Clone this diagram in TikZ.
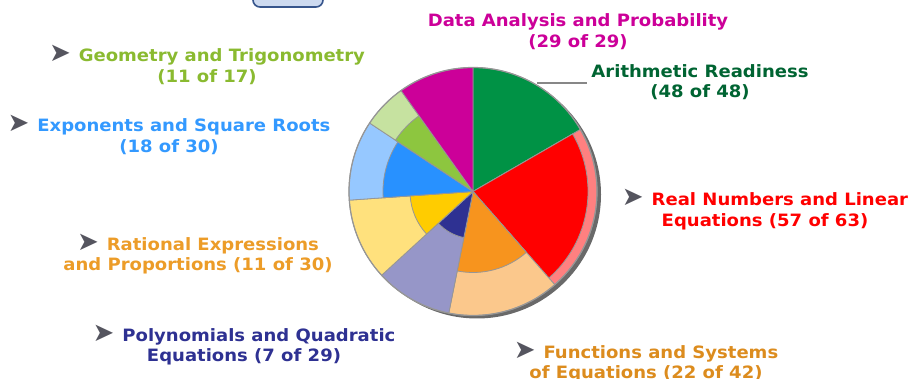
\documentclass[tikz,border=0pt]{standalone}
\usepackage{fontspec}
\usetikzlibrary{calc}
\setmainfont{DejaVu Sans}[FakeStretch=1.06]
\newfontfamily\symfont{DejaVu Sans}
\definecolor{arithC}{RGB}{0,146,69}
\definecolor{realC}{RGB}{255,0,0}
\definecolor{realL}{RGB}{255,128,128}
\definecolor{funcC}{RGB}{247,148,30}
\definecolor{funcL}{RGB}{251,200,140}
\definecolor{polyC}{RGB}{46,49,146}
\definecolor{polyL}{RGB}{150,150,200}
\definecolor{ratC}{RGB}{255,204,0}
\definecolor{ratL}{RGB}{255,225,125}
\definecolor{expoC}{RGB}{40,145,255}
\definecolor{expoL}{RGB}{150,200,255}
\definecolor{geoC}{RGB}{141,198,63}
\definecolor{geoL}{RGB}{198,226,160}
\definecolor{dataC}{RGB}{204,0,153}
\definecolor{geoT}{RGB}{138,186,48}
\definecolor{expoT}{RGB}{51,153,255}
\definecolor{ratT}{RGB}{236,156,40}
\definecolor{polyT}{RGB}{46,49,146}
\definecolor{dataT}{RGB}{204,0,153}
\definecolor{arithT}{RGB}{0,100,50}
\definecolor{realT}{RGB}{255,0,0}
\definecolor{funcT}{RGB}{220,140,30}
\definecolor{edgegray}{RGB}{150,150,150}
\definecolor{shadowgray}{RGB}{105,105,105}
\definecolor{arrowgray}{RGB}{85,85,95}
\definecolor{boxline}{RGB}{55,85,140}
\definecolor{boxfill}{RGB}{205,218,240}
\newcommand{\pointer}{{\symfont\fontsize{26}{20.5}\selectfont\color{arrowgray}➤}\hspace{8pt}}
\tikzset{
  slice/.style={draw=edgegray, line width=0.8pt},
  tag/.style={align=center, font=\fontsize{17}{20.5}\selectfont\bfseries, inner sep=4pt},
}
\begin{document}
\begin{tikzpicture}[x=1pt, y=1pt]
\useasboundingbox (0,0) rectangle (910,379);
\coordinate (pc) at (473,187.5);
% box at the top
\draw[boxline, fill=boxfill, line width=1.6pt, rounded corners=7pt] (253,372) rectangle (323,395);
% shadow
\fill[shadowgray] ($(pc)+(4,-3)$) circle (124);
% slices, outer part then done part
\filldraw[slice, fill=arithC] (pc) -- ++(30:124) arc[start angle=30, end angle=90, radius=124] -- cycle;
\filldraw[slice, fill=realL] (pc) -- ++(-48.75:124) arc[start angle=-48.75, end angle=30, radius=124] -- cycle;
\filldraw[slice, fill=realC] (pc) -- ++(-48.75:115) arc[start angle=-48.75, end angle=30, radius=115] -- cycle;
\filldraw[slice, fill=funcL] (pc) -- ++(-101.25:124) arc[start angle=-101.25, end angle=-48.75, radius=124] -- cycle;
\filldraw[slice, fill=funcC] (pc) -- ++(-101.25:81) arc[start angle=-101.25, end angle=-48.75, radius=81] -- cycle;
\filldraw[slice, fill=polyL] (pc) -- ++(-137.5:124) arc[start angle=-137.5, end angle=-101.25, radius=124] -- cycle;
\filldraw[slice, fill=polyC] (pc) -- ++(-137.5:47) arc[start angle=-137.5, end angle=-101.25, radius=47] -- cycle;
\filldraw[slice, fill=ratL] (pc) -- ++(-176:124) arc[start angle=-176, end angle=-137.5, radius=124] -- cycle;
\filldraw[slice, fill=ratC] (pc) -- ++(-176:63) arc[start angle=-176, end angle=-137.5, radius=63] -- cycle;
\filldraw[slice, fill=expoL] (pc) -- ++(146.5:124) arc[start angle=146.5, end angle=184, radius=124] -- cycle;
\filldraw[slice, fill=expoC] (pc) -- ++(146.5:90) arc[start angle=146.5, end angle=184, radius=90] -- cycle;
\filldraw[slice, fill=geoL] (pc) -- ++(125.5:124) arc[start angle=125.5, end angle=146.5, radius=124] -- cycle;
\filldraw[slice, fill=geoC] (pc) -- ++(125.5:93) arc[start angle=125.5, end angle=146.5, radius=93] -- cycle;
\filldraw[slice, fill=dataC] (pc) -- ++(90:124) arc[start angle=90, end angle=125.5, radius=124] -- cycle;
\draw[edgegray, line width=1.2pt] (pc) circle (124);
% labels
\node[tag, text=dataT] (data) at (578,347.5) {Data Analysis and Probability\\(29 of 29)};
\node[tag, text=arithT] (arith) at (700,297) {Arithmetic Readiness\\(48 of 48)};
\node[tag, text=geoT] (geo) at (207,314) {\pointer Geometry and Trigonometry\\(11 of 17)};
\node[tag, text=expoT] (expo) at (169,244) {\pointer Exponents and Square Roots\\(18 of 30)};
\node[tag, text=realT] (real) at (765,169.5) {\pointer Real Numbers and Linear\\Equations (57 of 63)};
\node[tag, text=ratT] (rat) at (198,125) {\pointer Rational Expressions\\and Proportions (11 of 30)};
\node[tag, text=polyT] (poly) at (244,34) {\pointer Polynomials and Quadratic\\Equations (7 of 29)};
\node[tag, text=funcT] (func) at (646,17) {\pointer Functions and Systems\\of Equations (22 of 42)};
\coordinate (arLead) at (537,296);
\draw[edgegray!90!black, line width=2pt] (arLead) -- (arith.west |- arLead);
\end{tikzpicture}
\end{document}
